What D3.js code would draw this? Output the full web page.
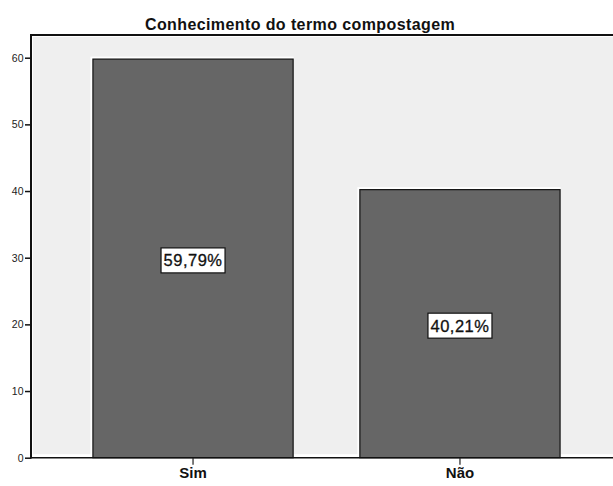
<!DOCTYPE html>
<html>
  <head>
    <script src="https://d3js.org/d3.v7.min.js"></script>
    <style>
      body { margin: 0; background: #fff; }
      text { font-family: "Liberation Sans", Arial, sans-serif; }
    </style>
  </head>
  <body>
    <div id="chart"></div>
    <script>
      const categories = ["Sim", "Não"];
      const values = [59.79, 40.21];
      const labels = ["59,79%", "40,21%"];
      const yTicks = [0, 10, 20, 30, 40, 50, 60];

      const W = 613, H = 486;
      const plotLeft = 31, plotTop = 35, plotBottom = 457.7, plotRight = 622;

      const svg = d3.select("#chart").append("svg")
        .attr("width", W).attr("height", H);

      const x = d3.scaleBand().domain(categories)
        .range([plotLeft, plotRight]).paddingInner(0.25).paddingOuter(0.232);
      const y = d3.scaleLinear().domain([0, 60]).range([plotBottom, plotBottom - 400]);

      // plot background
      svg.append("rect")
        .attr("x", plotLeft + 2).attr("y", plotTop + 2)
        .attr("width", W - plotLeft - 2).attr("height", plotBottom - plotTop - 5.5)
        .attr("fill", "#efefef");

      // white gap round the bars
      svg.selectAll("rect.gap").data(categories).enter().append("rect")
        .attr("class", "gap")
        .attr("x", d => x(d) - 2.5)
        .attr("y", (d, i) => y(values[i]) - 2.5)
        .attr("width", x.bandwidth() + 3)
        .attr("height", (d, i) => plotBottom - y(values[i]) + 2.5)
        .attr("fill", "#fff");

      svg.selectAll("rect.bar").data(categories).enter().append("rect")
        .attr("class", "bar")
        .attr("x", d => x(d))
        .attr("y", (d, i) => y(values[i]))
        .attr("width", x.bandwidth())
        .attr("height", (d, i) => plotBottom - y(values[i]))
        .attr("fill", "#666666")
        .attr("stroke", "#111")
        .attr("stroke-width", 1.2);

      // frame lines
      svg.append("line").attr("x1", plotLeft).attr("x2", W).attr("y1", plotTop).attr("y2", plotTop)
        .attr("stroke", "#111").attr("stroke-width", 2);
      svg.append("line").attr("x1", plotLeft).attr("x2", plotLeft).attr("y1", plotTop - 1).attr("y2", plotBottom + 0.7)
        .attr("stroke", "#111").attr("stroke-width", 2);
      svg.append("line").attr("x1", plotLeft).attr("x2", W).attr("y1", plotBottom).attr("y2", plotBottom)
        .attr("stroke", "#111").attr("stroke-width", 1.5);

      // y axis
      const yAxis = svg.append("g")
        .attr("transform", `translate(${plotLeft},0)`)
        .call(d3.axisLeft(y).tickValues(yTicks).tickSize(6).tickPadding(1.5));
      yAxis.select(".domain").remove();
      yAxis.selectAll(".tick line").attr("stroke", "#111").attr("stroke-width", 1.5);
      yAxis.selectAll(".tick text").attr("font-size", 10.5).attr("fill", "#222")
        .style("font-family", "'Liberation Sans', Arial, sans-serif");

      // x axis
      const xAxis = svg.append("g")
        .attr("transform", `translate(0,${plotBottom})`)
        .call(d3.axisBottom(x).tickSize(7).tickPadding(3));
      xAxis.select(".domain").remove();
      xAxis.selectAll(".tick line").attr("stroke", "#222").attr("stroke-width", 1.2);
      xAxis.selectAll(".tick text").attr("font-size", 15).attr("font-weight", "bold")
        .attr("fill", "#111")
        .style("font-family", "'Liberation Sans', Arial, sans-serif");

      // value labels
      const lab = svg.selectAll("g.lab").data(categories).enter().append("g")
        .attr("class", "lab")
        .attr("transform", (d, i) => `translate(${x(d) + x.bandwidth() / 2},${y(values[i] / 2) + 2})`);
      lab.append("rect")
        .attr("x", -32).attr("y", -12.5).attr("width", 64).attr("height", 25)
        .attr("fill", "#fff").attr("stroke", "#111").attr("stroke-width", 1.2);
      lab.append("text")
        .attr("text-anchor", "middle").attr("dy", "0.36em")
        .attr("font-size", 16.5).attr("letter-spacing", 0.5).attr("fill", "#111")
        .attr("stroke", "#111").attr("stroke-width", 0.3)
        .text((d, i) => labels[i]);

      // title
      svg.append("text")
        .attr("x", 300).attr("y", 29.5)
        .attr("text-anchor", "middle")
        .attr("font-size", 16).attr("font-weight", "bold").attr("letter-spacing", 0.4)
        .attr("fill", "#111")
        .text("Conhecimento do termo compostagem");
    </script>
  </body>
</html>
